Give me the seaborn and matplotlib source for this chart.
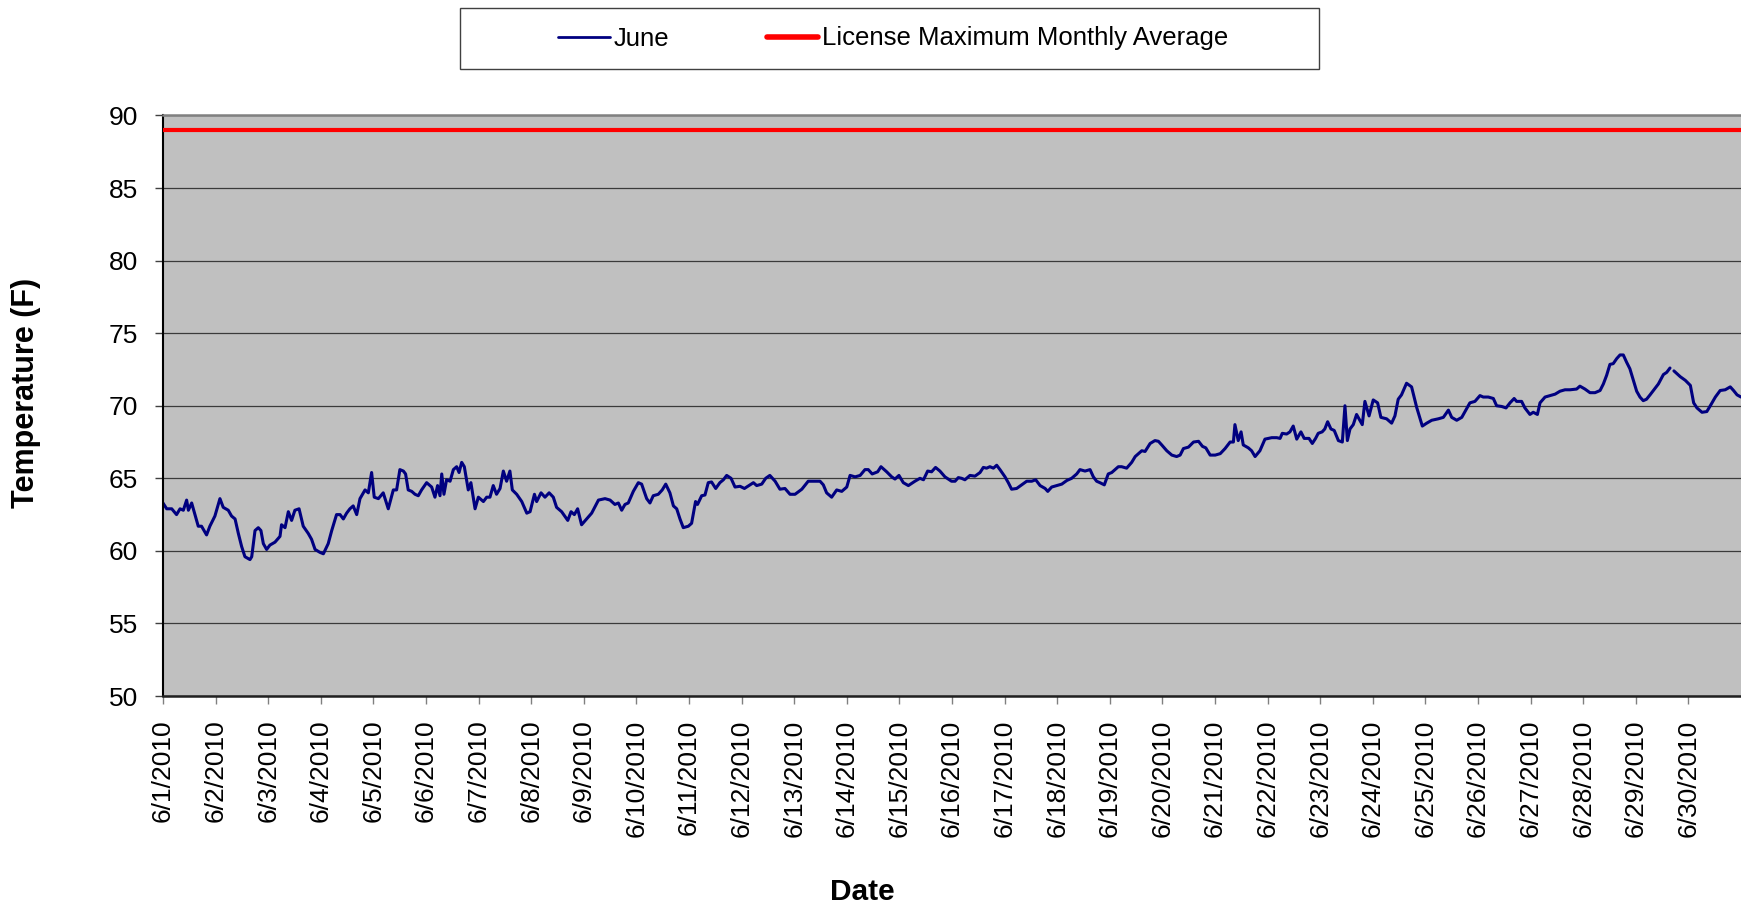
import matplotlib
matplotlib.use("Agg")
import matplotlib.pyplot as plt
from matplotlib.lines import Line2D
from matplotlib.patches import Rectangle
import numpy as np
import pandas as pd
import seaborn as sns

# hours since 2010-06-01 00:00 and water temperature (F); NaN marks the logger gap
hours = [
    0, 1.7, 4.0, 6.2, 7.8, 9.3, 10.8, 11.6, 13.1, 16.1, 17.6, 19.9, 21.4, 23.7,
    26.0, 27.5, 29.8, 31.3, 32.9, 34.4, 35.9, 37.4, 39.7, 40.5, 42.0, 43.5, 44.7,
    45.8, 47.3, 48.8, 51.1, 53.4, 54.1, 55.7, 57.2, 58.7, 60.2, 62.1, 64.0, 66.3,
    67.8, 69.4, 71.6, 73.2, 75.4, 77.0, 79.2, 80.8, 82.3, 83.8, 85.3, 86.8, 88.4,
    89.9, 92.2, 93.7, 95.2, 96.4, 98.3, 100.5, 102.8, 105.1, 106.6, 108.1, 109.7,
    110.7, 111.9, 113.5, 115.0, 116.5, 118.0, 120.3,
    122.6, 124.1, 125.3, 126.4, 127.2, 128.2, 129.4, 131.0, 132.5, 134.0, 135.1,
    136.3, 137.5, 139.3, 140.5, 142.4, 143.9, 146.2, 147.7, 149.2, 150.7, 152.2,
    153.8, 155.3, 156.8, 158.3, 159.4, 161.4, 163.7, 166.0, 167.5, 169.5, 170.5,
    172.5, 174.3, 176.2, 178.1, 179.6, 181.9, 184.7, 186.2, 187.7, 189.2, 191.0,
    193.3, 195.6, 198.7, 201.7, 204.0, 206.2, 207.8, 209.3, 210.8, 212.3, 214.6,
    216.9, 218.4, 220.7, 222.2, 223.7, 226.0, 227.8, 229.4, 231.3, 232.9, 234.4,
    235.9, 237.4, 239.7, 241.2, 243.0, 243.9, 245.8,
    247.3, 248.8, 250.3, 252.2, 254.1, 255.7, 257.2, 259.2, 261.0, 263.3, 265.3,
    267.9, 269.4, 270.9, 273.2, 275.0, 276.9, 279.3, 281.5, 283.8, 286.1, 288.4,
    291.5, 294.4, 297.5, 299.8, 301.3, 302.8, 305.1, 307.4, 309.7, 312.0, 313.5,
    315.8, 318.1, 320.3, 321.8, 323.6, 326.1, 327.6, 330.2, 332.5, 334.0, 335.8,
    337.8, 340.1, 343.1, 345.4, 347.0, 348.9, 350.7, 352.5, 354.5, 356.8, 359.8,
    361.4, 362.9, 364.4, 365.9,
    368.2, 370.5, 372.8, 374.3, 375.8, 377.3, 378.9, 380.4, 381.9, 384.2, 385.7,
    387.2, 389.5, 391.8, 394.1, 396.4, 398.2, 400.2, 402.5, 403.7, 405.5, 407.8,
    410.1, 412.4, 414.6, 416.9, 418.4, 420.7, 423.0, 424.5, 426.0, 427.5, 429.5,
    431.3, 432.9, 434.4, 435.9, 437.4, 439.7, 442.0, 443.6, 446.6, 448.1, 450.4,
    452.6, 454.2, 455.7, 458.0, 460.3, 462.5, 464.1, 465.6, 467.9, 470.2, 472.5,
    474.3, 475.8, 477.8, 480.1, 482.4, 484.6, 486.9, 488.4,
    489.1, 490.6, 491.9, 492.9, 495.2, 496.7, 498.3, 500.5, 502.8, 504.3, 505.9,
    508.2, 509.7, 510.7, 512.7, 514.2, 515.7, 517.3, 519.2, 520.7, 522.9, 524.4,
    525.9, 527.1, 528.9, 530.1, 531.4, 532.9, 534.4, 536.3, 538.1, 539.3, 540.4,
    541.6, 543.1, 544.6, 546.1, 547.2, 548.4, 550.3, 552.2, 554.2, 555.7, 558.3,
    560.6, 562.1, 563.6, 565.1, 567.4, 569.7, 572.0, 574.6, 576.6, 578.9, 581.9,
    584.2, 586.5, 588.0, 590.3, 592.6, 594.1, 596.3, 598.6, 600.9,
    602.4, 604.7, 607.0, 608.5, 610.8, 612.8, 614.6, 616.5, 617.6, 619.9, 621.4,
    623.7, 625.2, 627.1, 628.3, 630.6, 632.9, 635.2, 637.4, 639.7, 642.0, 645.0,
    646.5, 648.8, 651.1, 653.4, 655.7, 657.2, 658.7, 660.2, 661.7, 663.3, 664.8,
    666.3, 667.8, 669.3, 670.9, 672.4, 673.9, 675.4, 676.9, 678.5, 680.0, 682.3,
    684.6, 686.1, 687.6, 688.5, 689.4, 692.3, 694.6, 696.9, 698.4, 699.9, 702.2,
    704.4, 706.0, 708.3, 710.5, 712.8, 715.1, 716.6, 718.2, 720.0,
]
temps = [
    63.3, 62.9, 62.9, 62.5, 62.9, 62.8, 63.5, 62.8, 63.3, 61.7, 61.7, 61.1, 61.7, 62.4,
    63.6, 63.0, 62.8, 62.4, 62.2, 61.2, 60.3, 59.6, 59.4, 59.6, 61.4, 61.6, 61.4,
    60.5, 60.1, 60.4, 60.6, 61.0, 61.8, 61.6, 62.7, 62.1, 62.8, 62.9, 61.7, 61.2,
    60.8, 60.1, 59.9, 59.8, 60.5, 61.4, 62.5, 62.5, 62.2, 62.6, 62.9, 63.1, 62.5,
    63.6, 64.2, 64.0, 65.4, 63.7, 63.6, 64.0, 62.9, 64.2, 64.2, 65.6, 65.5,
    65.3, 64.2, 64.1, 63.9, 63.8, 64.2, 64.7,
    64.4, 63.7, 64.5, 63.8, 65.3, 63.9, 64.9, 64.8, 65.6, 65.8, 65.4,
    66.1, 65.8, 64.2, 64.7, 62.9, 63.7, 63.4, 63.7, 63.7, 64.5, 63.9,
    64.3, 65.5, 64.8, 65.5, 64.2, 63.9, 63.4, 62.6, 62.7, 63.9, 63.4,
    64.0, 63.7, 64.0, 63.7, 63.0, 62.7, 62.1, 62.7, 62.5, 62.9, 61.8,
    62.2, 62.6, 63.5, 63.6, 63.5, 63.2, 63.3, 62.8, 63.2, 63.3, 64.1,
    64.7, 64.6, 63.6, 63.3, 63.8, 63.9, 64.2, 64.6, 64.0, 63.1, 62.9,
    62.2, 61.6, 61.7, 61.9, 63.4, 63.2, 63.8,
    63.85, 64.7, 64.75, 64.3, 64.7, 64.9, 65.2, 65.0, 64.4, 64.45, 64.3,
    64.55, 64.7, 64.5, 64.6, 65.0, 65.2, 64.8, 64.25, 64.3, 63.9, 63.9,
    64.25, 64.8, 64.8, 64.8, 64.55, 64.0, 63.7, 64.2, 64.1, 64.4, 65.2,
    65.1, 65.2, 65.6, 65.6, 65.3, 65.45, 65.8, 65.45, 65.1, 64.95, 65.2,
    64.7, 64.5, 64.8, 65.0, 64.9, 65.5, 65.45, 65.75, 65.5, 65.1, 64.8,
    64.8, 65.05, 65.0, 64.9,
    65.2, 65.15, 65.4, 65.75, 65.7, 65.8, 65.7, 65.9, 65.6, 65.1, 64.7,
    64.25, 64.3, 64.55, 64.8, 64.8, 64.9, 64.5, 64.3, 64.1, 64.4, 64.5,
    64.6, 64.85, 65.0, 65.3, 65.6, 65.5, 65.6, 65.1, 64.8, 64.7, 64.55,
    65.3, 65.4, 65.6, 65.8, 65.8, 65.7, 66.1, 66.5, 66.9, 66.85, 67.4,
    67.6, 67.55, 67.3, 66.9, 66.6, 66.5, 66.6, 67.05, 67.15, 67.5, 67.55,
    67.2, 67.1, 66.6, 66.6, 66.7, 67.05, 67.5, 67.5,
    68.7, 67.6, 68.2, 67.3, 67.1, 66.9, 66.5, 66.9, 67.7, 67.75, 67.8,
    67.8, 67.75, 68.1, 68.05, 68.2, 68.6, 67.7, 68.2, 67.75, 67.75, 67.4,
    67.75, 68.1, 68.2, 68.4, 68.9, 68.4, 68.3, 67.6, 67.5, 70.0, 67.6,
    68.4, 68.7, 69.4, 69.0, 68.7, 70.3, 69.3, 70.4, 70.2, 69.2, 69.1,
    68.8, 69.3, 70.45, 70.75, 71.55, 71.3, 69.9, 68.6, 68.8, 69.0, 69.1,
    69.2, 69.7, 69.2, 69.0, 69.2, 69.6, 70.2, 70.3, 70.7,
    70.6, 70.6, 70.5, 70.0, 69.95, 69.85, 70.2, 70.5, 70.3, 70.3, 69.85,
    69.4, 69.55, 69.4, 70.2, 70.6, 70.7, 70.8, 71.0, 71.1, 71.1, 71.15,
    71.35, 71.15, 70.9, 70.9, 71.05, 71.5, 72.1, 72.85, 72.9, 73.25, 73.5,
    73.5, 73.0, 72.55, 71.75, 71.0, 70.6, 70.35, 70.45, 70.75, 71.05, 71.5,
    72.15, 72.3, 72.6, np.nan, 72.4, 72.0, 71.75, 71.4, 70.2, 69.85, 69.55,
    69.6, 70.0, 70.6, 71.05, 71.1, 71.3, 71.05, 70.75, 70.6,
]
license_max = 89
tick_days = pd.date_range("2010-06-01", "2010-06-30", freq="D")
series_label = "June"
limit_label = "License Maximum Monthly Average"

df = pd.DataFrame({
    "time": pd.Timestamp("2010-06-01") + pd.to_timedelta(hours, unit="h"),
    "temp": temps,
})
df["segment"] = df["temp"].isna().cumsum()
df = df.dropna()

sns.set_theme(style="white")
plt.rcParams["font.family"] = ["Liberation Sans", "DejaVu Sans"]
plt.rcParams["text.color"] = "black"
plt.rcParams["axes.labelcolor"] = "black"

fig = plt.figure(figsize=(17.41, 9.07), dpi=100)
ax = fig.add_axes([0.0936, 0.2326, 0.9064, 0.6401])
ax.set_facecolor("#c0c0c0")

sns.lineplot(data=df, x="time", y="temp", units="segment", estimator=None,
             color="#000080", linewidth=2.2, ax=ax)
ax.axhline(license_max, color="#ff0000", linewidth=3.0, zorder=3)

ax.set_ylim(50, 90)
ax.set_yticks(range(50, 91, 5))
ax.set_xlim(pd.Timestamp("2010-06-01"), pd.Timestamp("2010-07-01"))
ax.set_xticks(tick_days)
ax.set_xticklabels([f"{d.month}/{d.day}/{d.year}" for d in tick_days], rotation=90)
ax.yaxis.grid(True, color="#3a3a3a", linewidth=0.9)
ax.set_axisbelow(True)

ax.tick_params(axis="x", labelsize=19, length=6, width=1, color="#808080",
               pad=11, direction="out", bottom=True, labelcolor="black")
ax.tick_params(axis="y", labelsize=19, length=6, width=1, color="#404040",
               pad=12, direction="out", left=True, labelcolor="black")

ax.spines["left"].set_color("black")
ax.spines["left"].set_linewidth(1.5)
ax.spines["bottom"].set_color("#202020")
ax.spines["bottom"].set_linewidth(1.8)
ax.spines["top"].set_color("#808080")
ax.spines["top"].set_linewidth(1.8)
ax.spines["right"].set_visible(False)

ax.set_xlabel("Date", fontsize=21.5, fontweight="bold")
ax.xaxis.set_label_coords(0.443, -0.314)
ax.set_ylabel("Temperature (F)", fontsize=22, fontweight="bold")
ax.yaxis.set_label_coords(-0.0776, 0.522)

# legend box at the top
fig.patches.append(Rectangle((460 / 1741, 1 - 69 / 907), 859 / 1741, 61 / 907,
                             transform=fig.transFigure, facecolor="white",
                             edgecolor="#404040", linewidth=1.0))
handles = [Line2D([], [], color="#000080", linewidth=2.0),
           Line2D([], [], color="#ff0000", linewidth=4.0)]
fig.legend(handles, [series_label, limit_label], loc="center",
           bbox_to_anchor=(0.513, 1 - 38.5 / 907), ncol=2, frameon=False,
           fontsize=18.5, handlelength=2.0, handletextpad=0.15,
           columnspacing=3.8, labelcolor="black")

fig.savefig("out.png", dpi=100)
